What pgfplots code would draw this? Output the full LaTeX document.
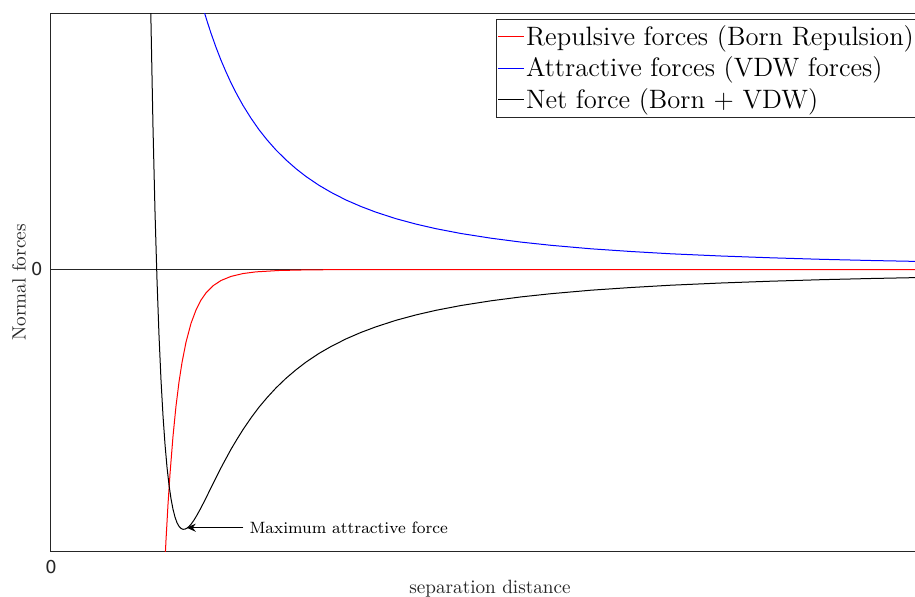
\documentclass[border=0pt]{standalone}
\usepackage{fontspec}
\usepackage{pgfplots}
\pgfplotsset{compat=1.18}
\usetikzlibrary{arrows.meta}
\newfontfamily\ticksf{DejaVu Sans}
\definecolor{axgray}{RGB}{38,38,38}

\begin{document}
\begin{tikzpicture}
\useasboundingbox (-25.5pt,-22.5pt) rectangle (432pt,275.5pt);
\begin{axis}[
  scale only axis,
  width=439pt, height=268.5pt,
  xmin=0, xmax=878, ymin=-281.5, ymax=255.5,
  axis line style={axgray, line width=0.5pt},
  xtick={0}, xticklabels={0}, ytick={0}, yticklabels={0},
  tick label style={font=\ticksf\fontsize{8.9}{10}\selectfont, text=axgray},
  xticklabel style={yshift=-1.2pt},
  yticklabel style={xshift=-0.8pt},
  major tick length=3pt,
  tick style={axgray, line width=0.5pt},
  xlabel={separation distance},
  ylabel={Normal forces},
  xlabel style={font=\fontsize{9.6}{11}\selectfont, text=axgray, at={(rel axis cs:0.5,0)}, anchor=base, yshift=-21pt},
  ylabel style={font=\fontsize{9.6}{11}\selectfont, text=axgray, at={(rel axis cs:0,0.5)}, anchor=center, yshift=16pt},
  legend cell align=left,
  legend image code/.code={\draw[#1, line width=0.5pt] (0pt,0pt) -- (13pt,0pt);},
  legend style={at={(rel axis cs:1,1)}, anchor=north east, xshift=-6pt, yshift=-2.5pt,
    font=\fontsize{13.3}{15}\selectfont, fill=white, draw=axgray,
    inner sep=0.75pt, row sep=0pt,
    nodes={inner xsep=0.6pt, inner ysep=2.15pt}},
]
\addplot[axgray, line width=0.5pt, forget plot] coordinates {(0,0) (878,0)};

% Repulsive (Born) -- red
\addplot[draw=red, line width=0.5pt] coordinates {
(113,-312.5) (114,-290.8) (115,-270.7) (117,-234.9) (119,-204.5) (122,-166.8)
(125,-136.6) (128,-112.5) (131,-93.1) (135,-72.7) (140,-53.9) (145,-40.5)
(150,-30.6) (155,-23.4) (162,-16.3) (170,-11.0) (180,-6.9) (192,-4.05)
(205,-2.36) (228,-0.99) (255,-0.39) (280,-0.18) (350,-0.03) (878,0)
};
\addlegendentry{Repulsive forces (Born Repulsion)}

% Attractive (VDW) -- blue
\addplot[draw=blue, line width=0.5pt] coordinates {
(148,276.2) (150,268.9) (153,258.4) (156,248.6) (160,236.3) (165,222.2)
(170,209.3) (175,197.6) (180,186.7) (186,174.9) (192,164.1) (200,151.3)
(208,139.8) (216,129.7) (225,119.5) (235,109.6) (245,100.8) (255,93.0)
(268,84.2) (280,77.2) (295,69.5) (310,63.0) (325,57.3) (345,50.8)
(365,45.4) (385,40.8) (410,36.0) (440,31.3) (470,27.4) (500,24.2)
(540,20.7) (580,18.0) (620,15.7) (670,13.5) (720,11.7) (770,10.2)
(820,9.0) (878,7.85)
};
\addlegendentry{Attractive forces (VDW forces)}

% Net force -- black
\addplot[draw=black, line width=0.5pt] coordinates {
(99,307.3) (100,246.0) (102,142.1) (104,58.0) (106,-10.2) (108,-65.7)
(110,-110.4) (112,-146.2) (114,-174.7) (116,-197.6) (118,-215.4) (120,-229.2)
(122,-239.7) (124,-247.6) (126,-253.2) (128,-256.8) (130,-258.9) (132,-259.8)
(134,-259.6) (136,-258.7) (138,-257.0) (140,-254.8) (143,-250.6) (146,-245.6)
(150,-238.3) (153,-232.4) (156,-226.4) (160,-218.3) (165,-208.2) (170,-198.3)
(175,-189.0) (180,-179.8) (186,-169.7) (192,-160.1) (200,-148.4) (208,-137.7)
(216,-128.2) (225,-118.4) (235,-108.8) (245,-100.3) (255,-92.6) (268,-83.9)
(280,-77.0) (295,-69.4) (310,-62.9) (325,-57.3) (345,-50.8) (365,-45.4)
(385,-40.8) (410,-36.0) (440,-31.3) (470,-27.4) (500,-24.2) (540,-20.7)
(580,-18.0) (620,-15.7) (670,-13.5) (720,-11.7) (770,-10.2) (820,-9.0)
(878,-7.85)
};
\addlegendentry{Net force (Born + VDW)}

\draw[-{Stealth[length=4.5pt,width=4pt]}, black, line width=0.5pt]
  (axis cs:192.3,-258.2) -- (axis cs:135.7,-258.2);
\node[anchor=west, font=\fontsize{8.2}{10}\selectfont, inner sep=2.9pt]
  at (axis cs:192.3,-258.2) {Maximum attractive force};
\end{axis}
\end{tikzpicture}
\end{document}
